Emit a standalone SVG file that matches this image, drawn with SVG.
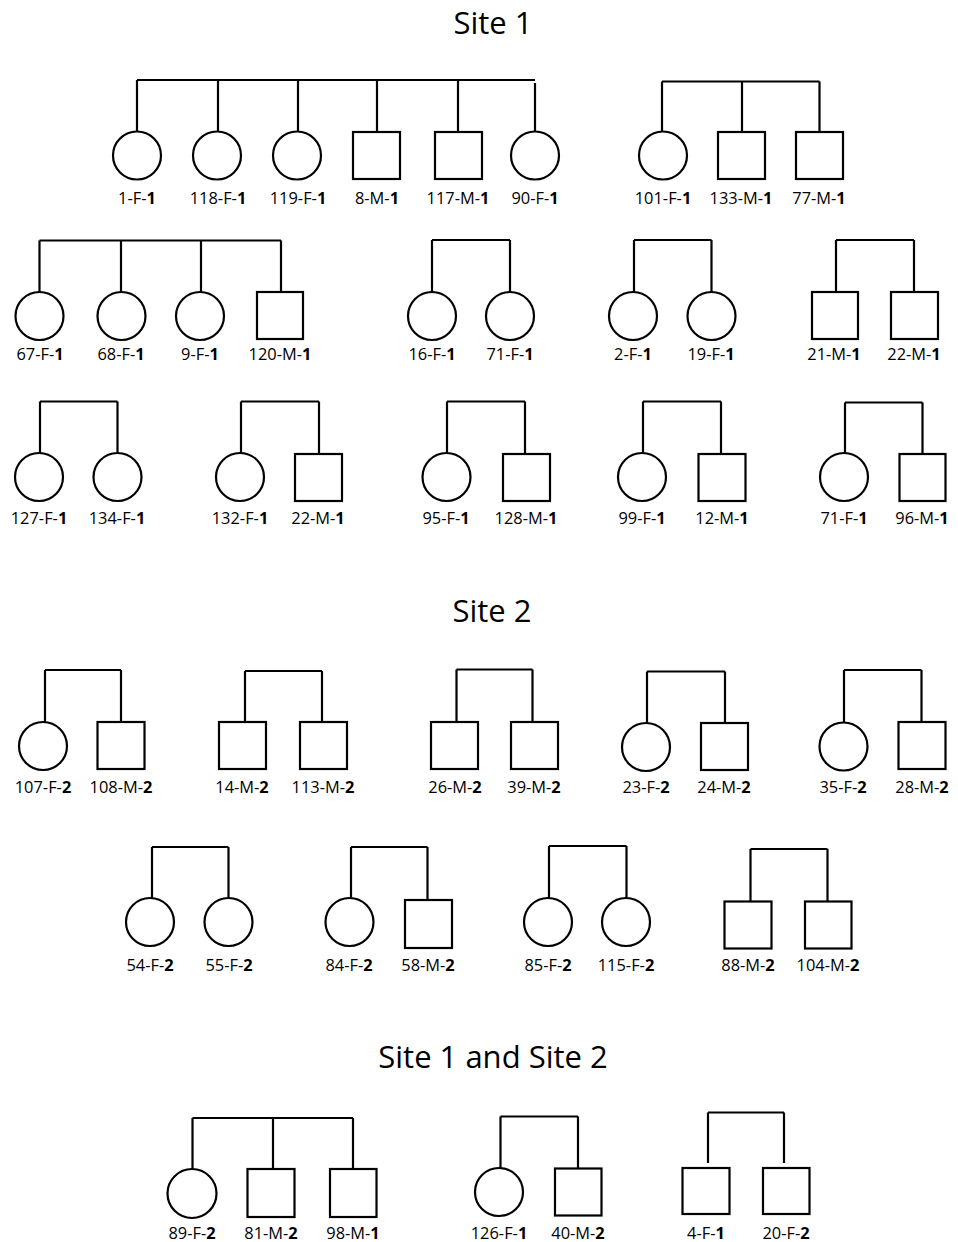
<svg xmlns="http://www.w3.org/2000/svg" width="958" height="1242" viewBox="0 0 958 1242">
<style>
.s{fill:#fff;stroke:#000;stroke-width:2.2}
.c{fill:none;stroke:#000;stroke-width:2.2}
text{font-family:"Open Sans","Liberation Sans",sans-serif;fill:#000;text-anchor:middle}
.l{font-size:16.4px}
.m{font-size:16.4px}
.t{font-size:31px}
.b{font-weight:bold}
</style>
<rect width="958" height="1242" fill="#fff"/>
<g id="titles">
<text class="t" x="493" y="34">Site 1</text>
<text class="t" x="492" y="622">Site 2</text>
<text class="t" x="493" y="1068">Site 1 and Site 2</text>
</g>
<g id="connectors">
<path class="c" d="M137,80H535M137,80V131.5M218,80V131.5M298,80V131.5M377,80V132M458,80V132M535,83V131.5"/>
<path class="c" d="M662,81.5H819.5M662,81.5V131.5M742,81.5V132M819.5,81.5V132"/>
<path class="c" d="M39.5,240.5H281M39.5,240.5V292M121,240.5V292M201,240.5V292M281,240.5V292"/>
<path class="c" d="M432,240H510M432,240V292M510,240V292"/>
<path class="c" d="M634,240H711.5M634,240V292M711.5,240V292"/>
<path class="c" d="M836,240H914M836,240V292M914,240V292"/>
<path class="c" d="M40,401.5H117.5M40,401.5V453M117.5,401.5V453"/>
<path class="c" d="M241,401.5H319M241,401.5V453M319,401.5V454"/>
<path class="c" d="M447,401.5H525M447,401.5V453M525,401.5V454"/>
<path class="c" d="M643,401.5H721M643,401.5V453M721,401.5V454"/>
<path class="c" d="M845,402.5H922.5M845,402.5V453M922.5,402.5V454"/>
<path class="c" d="M45,670H121M45,670V722M121,670V722"/>
<path class="c" d="M245,671H322M245,671V722M322,671V722"/>
<path class="c" d="M456.5,669.5H532.5M456.5,669.5V722M532.5,669.5V722"/>
<path class="c" d="M647,671.5H725M647,671.5V723M725,671.5V723"/>
<path class="c" d="M844,670H921.5M844,670V722M921.5,670V722"/>
<path class="c" d="M152,847H228.5M152,847V898M228.5,847V898"/>
<path class="c" d="M351,847H427.5M351,847V898M427.5,847V900"/>
<path class="c" d="M549,846H626.5M549,846V898M626.5,846V898"/>
<path class="c" d="M750.5,849H827.5M750.5,849V901.5M827.5,849V901.5"/>
<path class="c" d="M192.5,1118H353M192.5,1118V1169M273,1118V1169M353,1118V1169"/>
<path class="c" d="M500.5,1116.5H578M500.5,1116.5V1168.5M578,1116.5V1168.5"/>
<path class="c" d="M708,1112.5H784M708,1112.5V1163M784,1112.5V1163"/>
</g>
<g id="n1"><circle class="s" cx="137" cy="155.5" r="24"/><text class="l" x="137" y="204">1-F-<tspan class="b">1</tspan></text></g>
<g id="n118"><circle class="s" cx="217" cy="155.5" r="24"/><text class="l" x="218" y="204">118-F-<tspan class="b">1</tspan></text></g>
<g id="n119"><circle class="s" cx="297" cy="155.5" r="24"/><text class="l" x="298" y="204">119-F-<tspan class="b">1</tspan></text></g>
<g id="n8"><rect class="s" x="353" y="132" width="47" height="47"/><text class="l" x="377" y="204">8-M-<tspan class="b">1</tspan></text></g>
<g id="n117"><rect class="s" x="435" y="132" width="47" height="47"/><text class="l" x="458" y="204">117-M-<tspan class="b">1</tspan></text></g>
<g id="n90"><circle class="s" cx="535" cy="155.5" r="24"/><text class="l" x="535" y="204">90-F-<tspan class="b">1</tspan></text></g>
<g id="n101"><circle class="s" cx="663" cy="155.5" r="24"/><text class="l" x="663" y="204">101-F-<tspan class="b">1</tspan></text></g>
<g id="n133"><rect class="s" x="718" y="132" width="47" height="47"/><text class="l" x="741" y="204">133-M-<tspan class="b">1</tspan></text></g>
<g id="n77"><rect class="s" x="796" y="132" width="47" height="47"/><text class="l" x="819" y="204">77-M-<tspan class="b">1</tspan></text></g>
<g id="n67"><circle class="s" cx="39.5" cy="316" r="24"/><text class="l" x="40" y="360">67-F-<tspan class="b">1</tspan></text></g>
<g id="n68"><circle class="s" cx="121.5" cy="316" r="24"/><text class="l" x="121" y="360">68-F-<tspan class="b">1</tspan></text></g>
<g id="n9"><circle class="s" cx="200" cy="316" r="24"/><text class="l" x="200" y="360">9-F-<tspan class="b">1</tspan></text></g>
<g id="n120"><rect class="s" x="257" y="292" width="46" height="47"/><text class="l" x="280" y="360">120-M-<tspan class="b">1</tspan></text></g>
<g id="n16"><circle class="s" cx="432" cy="316" r="24"/><text class="l" x="432" y="360">16-F-<tspan class="b">1</tspan></text></g>
<g id="n71a"><circle class="s" cx="510" cy="316" r="24"/><text class="l" x="510" y="360">71-F-<tspan class="b">1</tspan></text></g>
<g id="n2"><circle class="s" cx="633" cy="316" r="24"/><text class="l" x="633" y="360">2-F-<tspan class="b">1</tspan></text></g>
<g id="n19"><circle class="s" cx="711.5" cy="316" r="24"/><text class="l" x="711" y="360">19-F-<tspan class="b">1</tspan></text></g>
<g id="n21"><rect class="s" x="812" y="292" width="46" height="47"/><text class="l" x="834" y="360">21-M-<tspan class="b">1</tspan></text></g>
<g id="n22a"><rect class="s" x="891" y="292" width="47" height="47"/><text class="l" x="914" y="360">22-M-<tspan class="b">1</tspan></text></g>
<g id="n127"><circle class="s" cx="39" cy="477" r="24"/><text class="l" x="39" y="524">127-F-<tspan class="b">1</tspan></text></g>
<g id="n134"><circle class="s" cx="117.5" cy="477" r="24"/><text class="l" x="117" y="524">134-F-<tspan class="b">1</tspan></text></g>
<g id="n132"><circle class="s" cx="240" cy="477" r="24"/><text class="l" x="240" y="524">132-F-<tspan class="b">1</tspan></text></g>
<g id="n22b"><rect class="s" x="295" y="454" width="47" height="47"/><text class="l" x="318" y="524">22-M-<tspan class="b">1</tspan></text></g>
<g id="n95"><circle class="s" cx="446.5" cy="477" r="24"/><text class="l" x="446" y="524">95-F-<tspan class="b">1</tspan></text></g>
<g id="n128"><rect class="s" x="503" y="454" width="47" height="47"/><text class="l" x="526" y="524">128-M-<tspan class="b">1</tspan></text></g>
<g id="n99"><circle class="s" cx="642" cy="477" r="24"/><text class="l" x="642" y="524">99-F-<tspan class="b">1</tspan></text></g>
<g id="n12"><rect class="s" x="698.5" y="454" width="47" height="47"/><text class="l" x="722" y="524">12-M-<tspan class="b">1</tspan></text></g>
<g id="n71b"><circle class="s" cx="844" cy="477" r="24"/><text class="l" x="844" y="524">71-F-<tspan class="b">1</tspan></text></g>
<g id="n96"><rect class="s" x="899.5" y="454" width="46" height="47"/><text class="l" x="922" y="524">96-M-<tspan class="b">1</tspan></text></g>
<g id="n107"><circle class="s" cx="43" cy="746" r="24"/><text class="l" x="43" y="793">107-F-<tspan class="b">2</tspan></text></g>
<g id="n108"><rect class="s" x="97.5" y="722" width="47" height="47"/><text class="l" x="121" y="793">108-M-<tspan class="b">2</tspan></text></g>
<g id="n14"><rect class="s" x="219" y="722" width="47" height="47"/><text class="l" x="242" y="793">14-M-<tspan class="b">2</tspan></text></g>
<g id="n113"><rect class="s" x="300" y="722" width="47" height="47"/><text class="l" x="323" y="793">113-M-<tspan class="b">2</tspan></text></g>
<g id="n26"><rect class="s" x="431" y="722" width="47" height="47"/><text class="l" x="455" y="793">26-M-<tspan class="b">2</tspan></text></g>
<g id="n39"><rect class="s" x="511" y="722" width="47" height="47"/><text class="l" x="534" y="793">39-M-<tspan class="b">2</tspan></text></g>
<g id="n23"><circle class="s" cx="646" cy="747" r="24"/><text class="l" x="646" y="793">23-F-<tspan class="b">2</tspan></text></g>
<g id="n24"><rect class="s" x="701" y="723" width="47" height="47"/><text class="l" x="724" y="793">24-M-<tspan class="b">2</tspan></text></g>
<g id="n35"><circle class="s" cx="843.5" cy="746.5" r="24"/><text class="l" x="843" y="793">35-F-<tspan class="b">2</tspan></text></g>
<g id="n28"><rect class="s" x="898.5" y="722" width="47" height="47"/><text class="l" x="922" y="793">28-M-<tspan class="b">2</tspan></text></g>
<g id="n54"><circle class="s" cx="150" cy="922" r="24"/><text class="m" x="150" y="971">54-F-<tspan class="b">2</tspan></text></g>
<g id="n55"><circle class="s" cx="228.5" cy="922" r="24"/><text class="m" x="229" y="971">55-F-<tspan class="b">2</tspan></text></g>
<g id="n84"><circle class="s" cx="349.5" cy="922" r="24"/><text class="m" x="349" y="971">84-F-<tspan class="b">2</tspan></text></g>
<g id="n58"><rect class="s" x="405" y="900" width="47" height="48"/><text class="m" x="428" y="971">58-M-<tspan class="b">2</tspan></text></g>
<g id="n85"><circle class="s" cx="548" cy="922" r="24"/><text class="m" x="548" y="971">85-F-<tspan class="b">2</tspan></text></g>
<g id="n115"><circle class="s" cx="626" cy="922" r="24"/><text class="m" x="626" y="971">115-F-<tspan class="b">2</tspan></text></g>
<g id="n88"><rect class="s" x="724.5" y="901.5" width="47" height="47"/><text class="m" x="748" y="971">88-M-<tspan class="b">2</tspan></text></g>
<g id="n104"><rect class="s" x="805" y="901.5" width="46.5" height="47"/><text class="m" x="828" y="971">104-M-<tspan class="b">2</tspan></text></g>
<g id="n89"><ellipse class="s" cx="192" cy="1193.5" rx="24.5" ry="24.5"/><text class="m" x="192" y="1239">89-F-<tspan class="b">2</tspan></text></g>
<g id="n81"><rect class="s" x="247.5" y="1169" width="47" height="48"/><text class="m" x="271" y="1239">81-M-<tspan class="b">2</tspan></text></g>
<g id="n98"><rect class="s" x="330" y="1169" width="46.5" height="48"/><text class="m" x="353" y="1239">98-M-<tspan class="b">1</tspan></text></g>
<g id="n126"><ellipse class="s" cx="499" cy="1192" rx="24" ry="24"/><text class="m" x="499" y="1239">126-F-<tspan class="b">1</tspan></text></g>
<g id="n40"><rect class="s" x="555" y="1168.5" width="46.5" height="47"/><text class="m" x="578" y="1239">40-M-<tspan class="b">2</tspan></text></g>
<g id="n4"><rect class="s" x="682.5" y="1168" width="47" height="46"/><text class="m" x="706" y="1239">4-F-<tspan class="b">1</tspan></text></g>
<g id="n20"><rect class="s" x="763" y="1168" width="46.5" height="46"/><text class="m" x="786" y="1239">20-F-<tspan class="b">2</tspan></text></g>
</svg>
